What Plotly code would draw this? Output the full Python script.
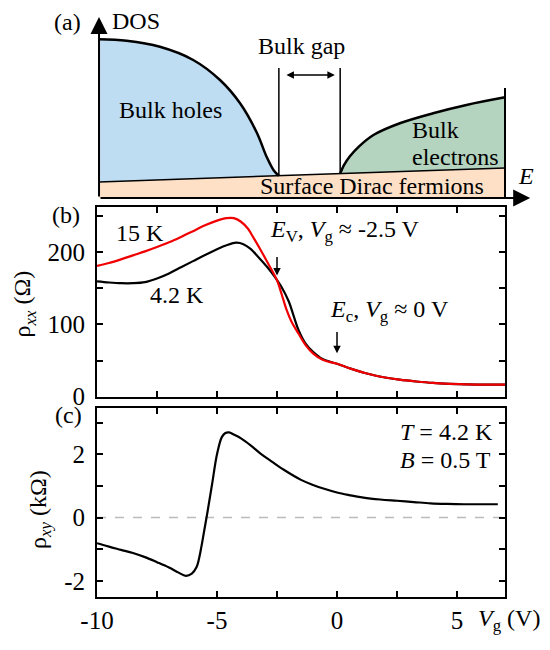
import plotly.graph_objects as go

# ---------------- data ----------------
# panel (a): schematic DOS (arbitrary units, E from 0 to 1, DOS from 0 to 1)
holes_E = [0.0, 0.068, 0.150, 0.232, 0.298, 0.347, 0.389, 0.413, 0.430, 0.443]
holes_D = [0.998, 0.989, 0.951, 0.868, 0.742, 0.597, 0.409, 0.258, 0.175, 0.140]
elec_E = [0.594, 0.603, 0.618, 0.640, 0.676, 0.741, 0.823, 0.905, 1.0]
elec_D = [0.153, 0.205, 0.262, 0.323, 0.396, 0.470, 0.533, 0.585, 0.633]
surf_E = [0.0, 1.0]
surf_D = [0.101, 0.189]
gap_E = [0.443, 0.594]
gap_top = 0.818
right_top = 0.692

# panel (b): rho_xx (Ohm) vs Vg (V)
vg_15K = [-10, -9.5, -9, -8.5, -8, -7.5, -7, -6.5, -6, -5.5, -5, -4.6, -4.3, -4, -3.7,
          -3.5, -3.2, -2.9, -2.5, -2.3, -2.1, -1.9, -1.6, -1.3, -1.0, -0.6, 0, 0.6,
          1.2, 2.0, 2.6, 3.3, 4.0, 4.7, 5.4, 6.2, 7.0]
rxx_15K = [181, 185, 190, 195.5, 201, 207, 213.5, 221, 229, 237, 243.5, 247, 247, 242, 232,
           221, 204, 186, 161, 141, 120, 104, 87, 71, 60, 51, 45.5, 38.5,
           32.5, 26.5, 23.5, 21, 19, 17.8, 17, 16.7, 16.6]
vg_4K = [-10, -9.5, -9, -8.5, -8, -7.5, -7, -6.5, -6, -5.5, -5, -4.6, -4.2, -3.9, -3.6,
         -3.3, -2.9, -2.6, -2.3, -2.0, -1.8, -1.6, -1.3, -1.0, -0.6, 0, 0.6,
         1.2, 2.0, 2.6, 3.3, 4.0, 4.7, 5.4, 6.2, 7.0]
rxx_4K = [159.5, 158, 157, 157, 158.5, 163.5, 170.5, 179, 187.5, 196, 204, 209.5, 213, 211, 204.5,
          194, 179, 166, 151, 131, 111, 92, 73, 62, 52, 45.5, 38.5,
          32.5, 26.5, 23.5, 21, 19, 17.8, 17, 16.7, 16.6]

# panel (c): rho_xy (kOhm) vs Vg (V), T = 4.2 K, B = 0.5 T
vg_xy = [-10, -9.5, -9, -8.5, -8, -7.5, -7, -6.6, -6.3, -6.05, -5.85, -5.75, -5.65, -5.55,
         -5.4, -5.2, -5.0, -4.8, -4.65, -4.5, -4.3, -4.0, -3.6, -3.2, -2.7, -2.2, -1.5,
         -1.0, -0.5, 0, 0.5, 1.1, 1.8, 2.5, 3.2, 3.9, 4.6, 5.3, 6.0, 6.7]
rxy = [-0.81, -0.92, -1.02, -1.12, -1.25, -1.41, -1.58, -1.74, -1.84, -1.77, -1.56, -1.30,
       -0.92, -0.49, 0.16, 1.08, 2.0, 2.54, 2.67, 2.69, 2.62, 2.50, 2.28, 2.03, 1.76, 1.50,
       1.19, 1.03, 0.90, 0.79, 0.71, 0.63, 0.57, 0.53, 0.49, 0.45, 0.43, 0.42, 0.42, 0.42]

x_tickvals = [-10, -5, 0, 5]
x_ticktext = ['-10', '-5', '0', '5']
x_minor = [-7.5, -2.5, 2.5]
yb_tickvals = [0, 100, 200]
yb_minor = [50, 150, 250]
yc_tickvals = [-2, 0, 2]
yc_ticktext = ['-2', '0', '2']
yc_minor = [-1, 1, 3]

# ---------------- figure ----------------
FONT = 'Liberation Serif'
FS = 24
TFS = 25
BLUE = '#bfddf2'
GREEN = '#b4d4bf'
PEACH = '#fde0c6'

fig = go.Figure()

# panel (a) fills
fig.add_trace(go.Scatter(x=surf_E + surf_E[::-1], y=[0, 0] + surf_D[::-1],
                         fill='toself', fillcolor=PEACH, line=dict(width=0),
                         mode='lines', xaxis='x3', yaxis='y3', hoverinfo='skip'))
fig.add_trace(go.Scatter(x=holes_E + [holes_E[-1], 0.0],
                         y=holes_D + [holes_D[-1], surf_D[0]],
                         fill='toself', fillcolor=BLUE, line=dict(width=0),
                         mode='lines', xaxis='x3', yaxis='y3', hoverinfo='skip'))
fig.add_trace(go.Scatter(x=elec_E + [1.0, elec_E[0]],
                         y=elec_D + [surf_D[1], elec_D[0]],
                         fill='toself', fillcolor=GREEN, line=dict(width=0),
                         mode='lines', xaxis='x3', yaxis='y3', hoverinfo='skip'))
# panel (a) lines
fig.add_trace(go.Scatter(x=surf_E, y=surf_D, mode='lines',
                         line=dict(color='black', width=1.5), xaxis='x3', yaxis='y3'))
fig.add_trace(go.Scatter(x=holes_E, y=holes_D, mode='lines', line_shape='spline',
                         line=dict(color='black', width=2.5), xaxis='x3', yaxis='y3'))
fig.add_trace(go.Scatter(x=elec_E, y=elec_D, mode='lines', line_shape='spline',
                         line=dict(color='black', width=2.5), xaxis='x3', yaxis='y3'))
fig.add_trace(go.Scatter(x=[gap_E[0], gap_E[0]], y=[holes_D[-1], gap_top], mode='lines',
                         line=dict(color='black', width=1.5), xaxis='x3', yaxis='y3'))
fig.add_trace(go.Scatter(x=[gap_E[1], gap_E[1]], y=[elec_D[0], gap_top], mode='lines',
                         line=dict(color='black', width=1.5), xaxis='x3', yaxis='y3'))
fig.add_trace(go.Scatter(x=[1.0, 1.0], y=[0, right_top], mode='lines',
                         line=dict(color='black', width=2), xaxis='x3', yaxis='y3'))

# panel (b)
fig.add_trace(go.Scatter(x=vg_4K, y=rxx_4K, mode='lines', line_shape='spline',
                         line=dict(color='black', width=2.2), xaxis='x2', yaxis='y2'))
fig.add_trace(go.Scatter(x=vg_15K, y=rxx_15K, mode='lines', line_shape='spline',
                         line=dict(color='#f00000', width=2.2), xaxis='x2', yaxis='y2'))

# panel (c)
fig.add_trace(go.Scatter(x=vg_xy, y=rxy, mode='lines', line_shape='spline',
                         line=dict(color='black', width=2.2), xaxis='x', yaxis='y'))

XDOM = [0.0771, 0.9271]
axis_common = dict(showline=True, linecolor='black', linewidth=2, mirror='ticks',
                   ticks='inside', ticklen=6, tickwidth=1.5, tickcolor='black',
                   showgrid=False, zeroline=False,
                   tickfont=dict(family=FONT, size=TFS, color='black'))

def minor(vals):
    return dict(tickmode='array', tickvals=vals, ticks='inside', ticklen=6,
                tickwidth=1.5, tickcolor='black', showgrid=False)

fig.update_layout(
    width=550, height=650,
    margin=dict(l=52, r=18, t=2, b=58),
    paper_bgcolor='white', plot_bgcolor='white',
    showlegend=False,
    font=dict(family=FONT, size=FS, color='black'),
    xaxis=dict(domain=XDOM, anchor='y', range=[-10, 7], tickmode='array',
               tickvals=x_tickvals, ticktext=x_ticktext, ticklabelstandoff=0,
               minor=minor(x_minor), **axis_common),
    yaxis=dict(domain=[0.0056, 0.3249], anchor='x', range=[-2.5, 3.45], tickmode='array',
               tickvals=yc_tickvals, ticktext=yc_ticktext, ticklabelstandoff=5,
               minor=minor(yc_minor), **axis_common),
    xaxis2=dict(domain=XDOM, anchor='y2', range=[-10, 7], tickmode='array',
                tickvals=x_tickvals, showticklabels=False,
                minor=minor(x_minor), **axis_common),
    yaxis2=dict(domain=[0.3446, 0.6656], anchor='x2', range=[0, 262], tickmode='array',
                tickvals=yb_tickvals, ticklabelstandoff=5,
                minor=minor(yb_minor), **axis_common),
    xaxis3=dict(domain=[0, 1], anchor='y3', range=[-0.0961, 1.0862], visible=False),
    yaxis3=dict(domain=[0.678, 1.0], anchor='x3', range=[-0.0126, 1.1824], visible=False),
)

# zero line in (c)
fig.add_shape(type='line', xref='x domain', yref='y', x0=0, x1=1, y0=0, y1=0,
              line=dict(color='#bbbbbb', width=1.5, dash='dash'), layer='below')

ann = []
def txt(x, y, s, xref='paper', yref='paper', xanchor='center', angle=0, size=FS):
    ann.append(dict(x=x, y=y, xref=xref, yref=yref, text=s, showarrow=False,
                    xanchor=xanchor, yanchor='middle', textangle=angle,
                    font=dict(family=FONT, size=size, color='black')))

def arrow(x, y, ax, ay, xref, yref, width=1.5, size=1.0, side='end', head=2):
    ann.append(dict(x=x, y=y, ax=ax, ay=ay, xref=xref, yref=yref, axref=xref, ayref=yref,
                    text='', showarrow=True, arrowhead=head, startarrowhead=head,
                    arrowside=side, arrowwidth=width, arrowsize=size, arrowcolor='black',
                    startarrowsize=size))

# panel (a) axes arrows and labels
arrow(0, 1.138, 0, 0, 'x3', 'y3', width=2, size=1.7)
arrow(1.062, 0, 0, 0, 'x3', 'y3', width=2, size=1.7)
arrow(0.581, 0.774, 0.458, 0.774, 'x3', 'y3', width=1.5, size=1.0, side='end+start')
txt(0.0146, 0.980, '(a)')
txt(0.027, 1.115, 'DOS', 'x3', 'y3', xanchor='left')
txt(0.498, 0.955, 'Bulk gap', 'x3', 'y3')
txt(0.175, 0.553, 'Bulk holes', 'x3', 'y3')
txt(0.766, 0.428, 'Bulk', 'x3', 'y3', xanchor='left')
txt(0.766, 0.260, 'electrons', 'x3', 'y3', xanchor='left')
txt(0.672, 0.075, 'Surface Dirac fermions', 'x3', 'y3')
txt(1.052, 0.140, '<i>E</i>', 'x3', 'y3')

# panel (b)
txt(0.0125, 0.6525, '(b)')
txt(-0.074, 0.5017, 'ρ<sub><i>xx</i></sub> (Ω)', angle=-90)
txt(-8.21, 226, '15 K', 'x2', 'y2')
txt(-6.67, 140, '4.2 K', 'x2', 'y2')
txt(-2.875, 229, '<i>E</i><sub>V</sub>, <i>V</i><sub>g</sub> ≈ -2.5 V', 'x2', 'y2', xanchor='left')
txt(-0.375, 119, '<i>E</i><sub>c</sub>, <i>V</i><sub>g</sub> ≈ 0 V', 'x2', 'y2', xanchor='left')
arrow(-2.5, 167.8, -2.5, 195.4, 'x2', 'y2', width=1.5, size=1.0)
arrow(0, 60, 0, 91.7, 'x2', 'y2', width=1.5, size=1.0)

# panel (c)
txt(0.0167, 0.3136, '(c)')
txt(-0.0417, 0.1542, 'ρ<sub><i>xy</i></sub> (kΩ)', angle=-90)
txt(6.58, 2.70, '<i>T</i> = 4.2 K', 'x', 'y', xanchor='right')
txt(6.5, 1.82, '<i>B</i> = 0.5 T', 'x', 'y', xanchor='right')
txt(0.935, -0.0339, '<i>V</i><sub>g</sub> (V)')

fig.update_layout(annotations=ann)
fig.write_html('out.html')
